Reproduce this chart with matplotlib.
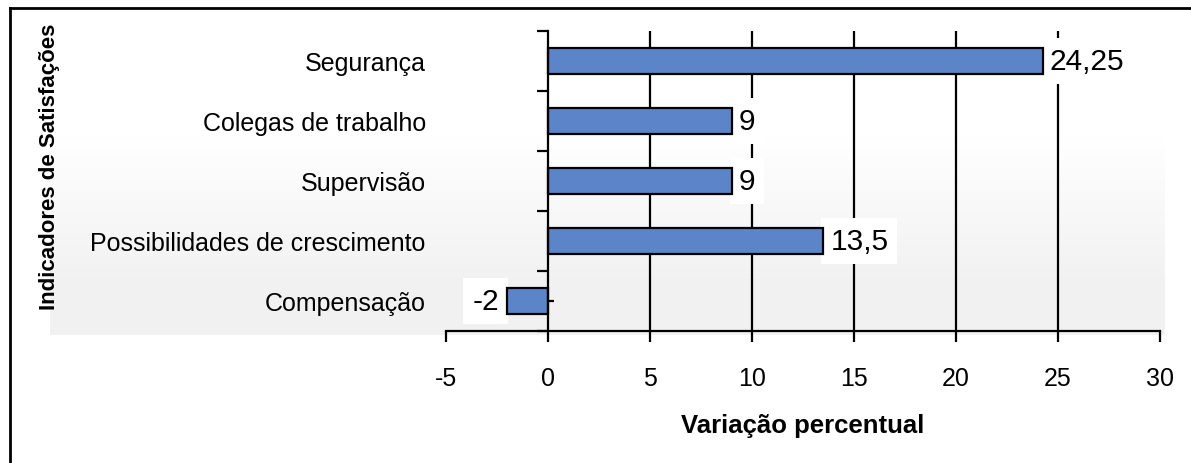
import numpy as np
import matplotlib.pyplot as plt
from matplotlib.colors import LinearSegmentedColormap
from matplotlib.lines import Line2D

categorias = ['Segurança', 'Colegas de trabalho', 'Supervisão',
              'Possibilidades de crescimento', 'Compensação']
valores = [24.25, 9, 9, 13.5, -2]
rotulos = ['24,25', '9', '9', '13,5', '-2']
xticks = [-5, 0, 5, 10, 15, 20, 25, 30]

plt.rcParams['font.family'] = ['Liberation Sans', 'DejaVu Sans']

W, H = 1191, 464
fig = plt.figure(figsize=(W / 100, H / 100), dpi=100)

# fundo pontilhado (cinza leve, mais forte em baixo)
bg = fig.add_axes([50 / W, 1 - 336 / H, 1115 / W, 200 / H], zorder=-1)
grad = np.clip(np.linspace(0, 1.3, 200), 0, 1)[:, None] * np.ones((1, 10))
cmap = LinearSegmentedColormap.from_list('g', ['#ffffff', '#f1f1f1'])
bg.imshow(grad, aspect='auto', cmap=cmap, vmin=0, vmax=1)
bg.axis('off')

ax = fig.add_axes([446 / W, 1 - 332 / H, (1160 - 446) / W, 300 / H])
ax.patch.set_alpha(0)

y = np.arange(len(categorias))
ax.barh(y, valores, height=0.42, color='#5b84c9', edgecolor='black',
        linewidth=1.6, zorder=4)

ax.set_xlim(-5, 30)
ax.set_ylim(len(categorias) - 0.5, -0.5)

ax.vlines([t for t in xticks if 0 < t < 30], -0.5, len(categorias) - 0.5,
          color='black', linewidth=1.6, zorder=0.5)

caixa = dict(boxstyle='square,pad=0.3', fc='white', ec='none')
for yi, v, r in zip(y, valores, rotulos):
    if v >= 0:
        ax.annotate(r, (v, yi), xytext=(5, 0), textcoords='offset points',
                    ha='left', va='center', fontsize=21.5, bbox=caixa, zorder=3)
    else:
        ax.annotate(r, (v, yi), xytext=(-6, 0), textcoords='offset points',
                    ha='right', va='center', fontsize=21.5, bbox=caixa, zorder=3)

for s in ['top', 'right']:
    ax.spines[s].set_visible(False)
ax.spines['left'].set_position(('data', 0))
ax.spines['left'].set_linewidth(1.6)
ax.spines['bottom'].set_linewidth(1.6)
ax.spines['left'].set_zorder(5)

ax.set_xticks(xticks)
ax.set_xticklabels([str(t) for t in xticks], fontsize=18)
ax.tick_params(axis='x', direction='out', length=8, width=1.6, pad=17)

ax.set_yticks(y)
ax.set_yticklabels(categorias, fontsize=18)
ax.set_yticks(np.arange(len(categorias) + 1) - 0.5, minor=True)
ax.tick_params(axis='y', which='major', direction='in', length=4, width=1.6,
               pad=88)
ax.tick_params(axis='y', which='minor', direction='out', length=8, width=1.6)

ax.set_xlabel('Variação percentual', fontsize=18.5, fontweight='bold',
              labelpad=17)
fig.text(50 / W, 1 - 167 / H, 'Indicadores de Satisfações', rotation=90,
         ha='center', va='center', fontsize=16, fontweight='bold')

# moldura (só topo e esquerda visíveis)
fig.add_artist(Line2D([10 / W, 1], [1 - 9 / H, 1 - 9 / H], color='black',
                      linewidth=2, transform=fig.transFigure))
fig.add_artist(Line2D([10 / W, 10 / W], [0, 1 - 9 / H], color='black',
                      linewidth=2, transform=fig.transFigure))

fig.savefig('out.png', dpi=100)
